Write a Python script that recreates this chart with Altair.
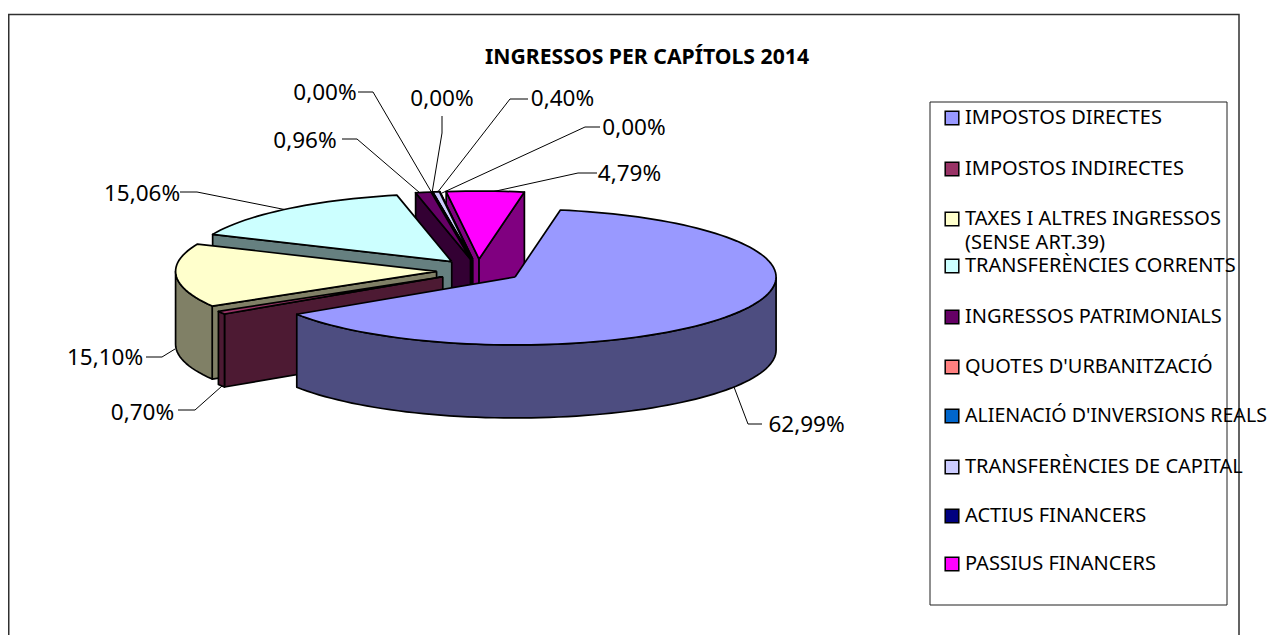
import math
import altair as alt
import pandas as pd

# ---- chart values ----
categories = ["IMPOSTOS DIRECTES", "IMPOSTOS INDIRECTES", "TAXES I ALTRES INGRESSOS", "TRANSFERÈNCIES CORRENTS",
              "INGRESSOS PATRIMONIALS", "QUOTES D'URBANITZACIÓ", "ALIENACIÓ D'INVERSIONS REALS",
              "TRANSFERÈNCIES DE CAPITAL", "ACTIUS FINANCERS", "PASSIUS FINANCERS"]
values = [62.99, 0.70, 15.10, 15.06, 0.96, 0.00, 0.00, 0.40, 0.00, 4.79]
top_colors = ["#9999FF", "#993366", "#FFFFCC", "#CCFFFF", "#660066", "#FF8080", "#0066CC", "#CCCCFF", "#000080", "#FF00FF"]
side_colors = ["#4D4D80", "#4D1A33", "#808066", "#668080", "#330033", "#804040", "#003366", "#666680", "#000040", "#800080"]
title_text = "INGRESSOS PER CAPÍTOLS 2014"
note_text = "(SENSE ART.39)"

# ---- layout (screen pixels of the page) ----
W, H = 1262, 627
OX, OY, RX, RY, DEPTH, START = 478.0, 270.6, 261.0, 68.0, 73.0, 10.0
EXPLODE_R, EXPLODE_L, EXPLODE_Y = 44.4, 41.5, 44.4
K = RY / RX
FONT = "Noto Sans"

label_pos = [(806.5, 425), (142.5, 413), (105, 358), (142, 194), (305, 141), (325, 93), (442, 99), (562.5, 99), (634, 128), (629.5, 174)]
leaders = [
    [(762, 424), (748, 424), (734, 387)],
    [(178, 410), (195, 410), (222, 386)],
    [(146, 357), (162, 357), (175, 349)],
    [(180, 192), (197, 192), (287, 210)],
    [(342, 139), (357, 139), (420, 193)],
    [(358, 92), (373, 92), (432, 193)],
    [(442, 116), (442, 133), (432, 193)],
    [(528, 99), (510, 99), (437, 193)],
    [(600, 127), (585, 127), (442, 193)],
    [(597, 173), (578, 173), (487, 193)],
]
legend_y = [118, 169, 219, 266, 317, 367, 416, 467, 516, 564]
legend_font = [20, 20, 20, 20, 20, 20, 19.6, 20, 20, 20]
note_y = 243


def slice_polys():
    """Faces of the exploded 3D pie, back to front, computed from the values."""
    total = sum(values)
    spans, a = [], START
    for v in values:
        b = a + 360 * v / total
        spans.append((a, b))
        a = b
    rows, pid = [], 0

    def add(points, colour):
        nonlocal pid
        pts = points + [points[0]]
        for i, (x, y) in enumerate(pts):
            rows.append({"poly": f"p{pid:03d}", "i": i, "x": x, "y": y, "colour": colour})
        pid += 1

    for idx in range(len(values) - 1, -1, -1):
        a, b = spans[idx]
        mid = math.radians((a + b) / 2)
        ex = EXPLODE_R if math.sin(mid) > 0 else EXPLODE_L
        cx = OX + ex * math.sin(mid)
        cy = OY - EXPLODE_Y * K * math.cos(mid)

        def rim(t):
            r = math.radians(t)
            return (cx + RX * math.sin(r), cy - RY * math.cos(r))

        sa, sb = math.sin(math.radians(a)), math.sin(math.radians(b))
        if sa < 0:
            p = rim(a)
            add([(cx, cy), p, (p[0], p[1] + DEPTH), (cx, cy + DEPTH)], side_colors[idx])
        if sb > 0:
            p = rim(b)
            add([(cx, cy), p, (p[0], p[1] + DEPTH), (cx, cy + DEPTH)], side_colors[idx])
        lo, hi = max(a, 90), min(b, 270)
        if hi > lo:
            n = max(2, int((hi - lo) / 2))
            arc = [rim(lo + (hi - lo) * j / n) for j in range(n + 1)]
            add(arc + [(x, y + DEPTH) for x, y in reversed(arc)], side_colors[idx])
        n = max(2, int((b - a) / 2))
        add([(cx, cy)] + [rim(a + (b - a) * j / n) for j in range(n + 1)], top_colors[idx])
    return pd.DataFrame(rows)


xs = alt.Scale(domain=[8, 8 + W], range=[0, W])
ys = alt.Scale(domain=[8, 8 + H], range=[0, H])
X = alt.X("x:Q", scale=xs, axis=None)
Y = alt.Y("y:Q", scale=ys, axis=None)

pie = alt.Chart(slice_polys()).mark_line(stroke="black", strokeWidth=1.7, strokeJoin="round", clip=False).encode(
    x=X, y=Y, order="i:Q", detail="poly:N", fill=alt.Fill("colour:N", scale=None))

lead_rows = [{"id": n, "i": i, "x": x, "y": y} for n, l in enumerate(leaders) for i, (x, y) in enumerate(l)]
lead = alt.Chart(pd.DataFrame(lead_rows)).mark_line(stroke="black", strokeWidth=1).encode(
    x=X, y=Y, order="i:Q", detail="id:N")

pct = [f"{v:.2f}".replace(".", ",") + "%" for v in values]
labels = alt.Chart(pd.DataFrame({"t": pct, "x": [p[0] for p in label_pos], "y": [p[1] for p in label_pos]})).mark_text(
    font=FONT, fontSize=22.5, color="black", baseline="middle", align="center").encode(x=X, y=Y, text="t:N")

title = alt.Chart(pd.DataFrame({"t": [title_text], "x": [647], "y": [58]})).mark_text(
    font=FONT, fontSize=21.2, fontWeight="bold", color="black", baseline="middle", align="center").encode(x=X, y=Y, text="t:N")

frame_rows = [{"id": "o", "i": i, "x": x, "y": y} for i, (x, y) in enumerate([(8.75, 635), (8.75, 14.5), (1239, 14.5), (1239, 635)])]
frame = alt.Chart(pd.DataFrame(frame_rows)).mark_line(stroke="#303030", strokeWidth=1.5).encode(x=X, y=Y, order="i:Q", detail="id:N")

box_pts = [(930, 102), (1227, 102), (1227, 605), (930, 605), (930, 102)]
box = alt.Chart(pd.DataFrame([{"id": "b", "i": i, "x": x, "y": y} for i, (x, y) in enumerate(box_pts)])).mark_line(
    stroke="#202020", strokeWidth=1).encode(x=X, y=Y, order="i:Q", detail="id:N")

leg = pd.DataFrame({"t": categories, "y": legend_y, "colour": top_colors, "fs": legend_font})
leg["sx"] = 952
leg["tx"] = 965
swatches = alt.Chart(leg).mark_point(shape="square", filled=True, stroke="black", strokeWidth=1.5, size=185, opacity=1).encode(
    x=alt.X("sx:Q", scale=xs, axis=None), y=alt.Y("y:Q", scale=ys, axis=None), fill=alt.Fill("colour:N", scale=None))
leg_text = alt.Chart(leg).mark_text(font=FONT, color="black", baseline="middle", align="left").encode(
    x=alt.X("tx:Q", scale=xs, axis=None), y=Y, text="t:N", size=alt.Size("fs:Q", scale=None))
note = alt.Chart(pd.DataFrame({"t": [note_text], "x": [965], "y": [note_y]})).mark_text(
    font=FONT, fontSize=20, color="black", baseline="middle", align="left").encode(x=X, y=Y, text="t:N")

chart = alt.layer(frame, lead, pie, labels, title, box, swatches, leg_text, note).properties(
    width=W, height=H, padding=0, autosize=alt.AutoSizeParams(type="none"), background="white"
).configure_view(stroke=None)

chart.save("out.html", embed_options={"renderer": "svg", "actions": False})
